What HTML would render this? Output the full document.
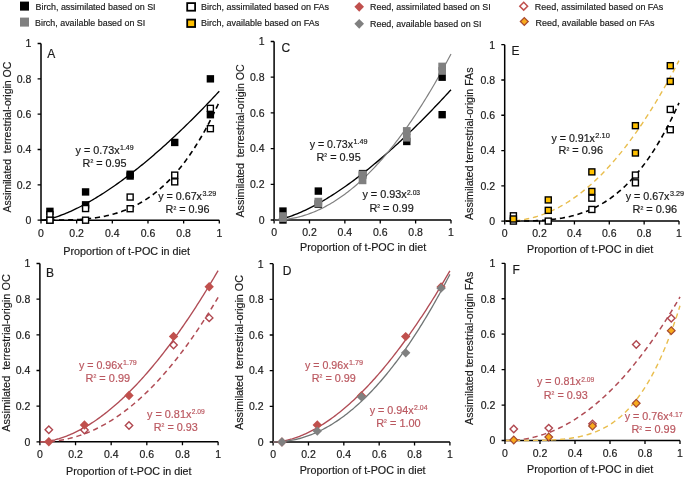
<!DOCTYPE html><html><head><meta charset="utf-8"><style>html,body{margin:0;padding:0;background:#fff;}svg{display:block;will-change:transform}</style></head><body>
<svg width="685" height="479" viewBox="0 0 685 479" font-family="Liberation Sans, sans-serif" fill="#1a1a1a">
<rect width="685" height="479" fill="#fff"/>
<g font-size="9" fill="#1a1a1a">
<rect x="20" y="1.6" width="9" height="9" fill="#000"/>
<text stroke="#1a1a1a" stroke-width="0.18" x="35.6" y="10" textLength="120" lengthAdjust="spacingAndGlyphs">Birch, assimilated based on SI</text>
<rect x="20" y="17.6" width="9" height="9" fill="#808080"/>
<text stroke="#1a1a1a" stroke-width="0.18" x="35" y="25.8" textLength="110.2" lengthAdjust="spacingAndGlyphs">Birch, available based on SI</text>
<rect x="187.2" y="3.1" width="7.9" height="7.6" fill="#fff" stroke="#000" stroke-width="1.8"/>
<text stroke="#1a1a1a" stroke-width="0.18" x="201" y="10" textLength="128" lengthAdjust="spacingAndGlyphs">Birch, assimilated based on FAs</text>
<rect x="187.2" y="19.6" width="7.9" height="7.4" fill="#ffc000" stroke="#000" stroke-width="1.8"/>
<text stroke="#1a1a1a" stroke-width="0.18" x="201" y="26.2" textLength="118.3" lengthAdjust="spacingAndGlyphs">Birch, available based on FAs</text>
<path d="M359.2,1.9L364,6.8L359.2,11.7L354.4,6.8Z" fill="#c0504d"/>
<text stroke="#1a1a1a" stroke-width="0.18" x="370" y="10" textLength="120.7" lengthAdjust="spacingAndGlyphs">Reed, assimilated based on SI</text>
<path d="M359.2,18.9L364,23.8L359.2,28.7L354.4,23.8Z" fill="#808080"/>
<text stroke="#1a1a1a" stroke-width="0.18" x="370" y="26.5" textLength="111.5" lengthAdjust="spacingAndGlyphs">Reed, available based on SI</text>
<path d="M523.7,2.3L527.6,6.2L523.7,10.1L519.8,6.2Z" fill="#fff" stroke="#c0504d" stroke-width="1.5"/>
<text stroke="#1a1a1a" stroke-width="0.18" x="534.8" y="10" textLength="128.5" lengthAdjust="spacingAndGlyphs">Reed, assimilated based on FAs</text>
<path d="M524.3,17.6L528.2,21.5L524.3,25.4L520.4,21.5Z" fill="#f8ab1c" stroke="#a8492f" stroke-width="1.3"/>
<text stroke="#1a1a1a" stroke-width="0.18" x="535.5" y="25.8" textLength="118.9" lengthAdjust="spacingAndGlyphs">Reed, available based on FAs</text>
</g>
<path d="M41,43.5V220.2H219.3" fill="none" stroke="#000" stroke-width="1.5"/>
<path d="M37.60,220.20H41M41.00,220.2V223.60M37.60,184.86H41M76.66,220.2V223.60M37.60,149.52H41M112.32,220.2V223.60M37.60,114.18H41M147.98,220.2V223.60M37.60,78.84H41M183.64,220.2V223.60M37.60,43.50H41M219.30,220.2V223.60" fill="none" stroke="#000" stroke-width="1.3"/>
<text stroke="#1a1a1a" stroke-width="0.18" x="31.40" y="224.00" text-anchor="end" font-size="10.5">0</text>
<text stroke="#1a1a1a" stroke-width="0.18" x="41.00" y="236.50" text-anchor="middle" font-size="10.5">0</text>
<text stroke="#1a1a1a" stroke-width="0.18" x="31.40" y="188.66" text-anchor="end" font-size="10.5">0.2</text>
<text stroke="#1a1a1a" stroke-width="0.18" x="76.66" y="236.50" text-anchor="middle" font-size="10.5">0.2</text>
<text stroke="#1a1a1a" stroke-width="0.18" x="31.40" y="153.32" text-anchor="end" font-size="10.5">0.4</text>
<text stroke="#1a1a1a" stroke-width="0.18" x="112.32" y="236.50" text-anchor="middle" font-size="10.5">0.4</text>
<text stroke="#1a1a1a" stroke-width="0.18" x="31.40" y="117.98" text-anchor="end" font-size="10.5">0.6</text>
<text stroke="#1a1a1a" stroke-width="0.18" x="147.98" y="236.50" text-anchor="middle" font-size="10.5">0.6</text>
<text stroke="#1a1a1a" stroke-width="0.18" x="31.40" y="82.64" text-anchor="end" font-size="10.5">0.8</text>
<text stroke="#1a1a1a" stroke-width="0.18" x="183.64" y="236.50" text-anchor="middle" font-size="10.5">0.8</text>
<text stroke="#1a1a1a" stroke-width="0.18" x="31.40" y="47.30" text-anchor="end" font-size="10.5">1</text>
<text stroke="#1a1a1a" stroke-width="0.18" x="219.30" y="236.50" text-anchor="middle" font-size="10.5">1</text>
<text stroke="#1a1a1a" stroke-width="0.18" x="63.20" y="255.20" font-size="10.8" textLength="126.80" lengthAdjust="spacingAndGlyphs">Proportion of t-POC in diet</text>
<text stroke="#1a1a1a" stroke-width="0.18" transform="translate(10.80,212.60) rotate(-90)" x="0" y="0" font-size="10.7" textLength="150.90" lengthAdjust="spacingAndGlyphs" xml:space="preserve">Assimilated  terrestrial-origin OC</text>
<text stroke="#1a1a1a" stroke-width="0.18" x="47.2" y="57.6" font-size="12">A</text>
<polyline points="41.00,220.20 42.49,220.10 43.97,219.91 45.46,219.67 46.94,219.39 48.43,219.07 49.91,218.71 51.40,218.33 52.89,217.92 54.37,217.48 55.86,217.02 57.34,216.53 58.83,216.03 60.32,215.50 61.80,214.95 63.29,214.38 64.77,213.79 66.26,213.19 67.75,212.56 69.23,211.92 70.72,211.26 72.20,210.59 73.69,209.90 75.17,209.20 76.66,208.48 78.15,207.74 79.63,206.99 81.12,206.23 82.60,205.45 84.09,204.66 85.58,203.85 87.06,203.03 88.55,202.20 90.03,201.36 91.52,200.50 93.00,199.63 94.49,198.75 95.98,197.85 97.46,196.95 98.95,196.03 100.43,195.10 101.92,194.16 103.41,193.21 104.89,192.25 106.38,191.27 107.86,190.29 109.35,189.29 110.83,188.28 112.32,187.27 113.81,186.24 115.29,185.20 116.78,184.15 118.26,183.10 119.75,182.03 121.24,180.95 122.72,179.86 124.21,178.76 125.69,177.66 127.18,176.54 128.66,175.41 130.15,174.28 131.64,173.13 133.12,171.98 134.61,170.81 136.09,169.64 137.58,168.46 139.06,167.27 140.55,166.07 142.04,164.86 143.52,163.65 145.01,162.42 146.49,161.19 147.98,159.94 149.47,158.69 150.95,157.43 152.44,156.16 153.92,154.89 155.41,153.60 156.90,152.31 158.38,151.01 159.87,149.70 161.35,148.38 162.84,147.06 164.32,145.73 165.81,144.38 167.30,143.04 168.78,141.68 170.27,140.32 171.75,138.94 173.24,137.56 174.73,136.18 176.21,134.78 177.70,133.38 179.18,131.97 180.67,130.55 182.15,129.13 183.64,127.70 185.13,126.26 186.61,124.81 188.10,123.36 189.58,121.89 191.07,120.43 192.56,118.95 194.04,117.47 195.53,115.98 197.01,114.48 198.50,112.98 199.98,111.47 201.47,109.95 202.96,108.42 204.44,106.89 205.93,105.36 207.41,103.81 208.90,102.26 210.38,100.70 211.87,99.13 213.36,97.56 214.84,95.98 216.33,94.40 217.81,92.81 219.30,91.21" fill="none" stroke="#000" stroke-width="1.35" stroke-linejoin="round"/>
<polyline points="41.00,220.20 42.49,220.20 43.97,220.20 45.46,220.20 46.94,220.20 48.43,220.20 49.91,220.19 51.40,220.19 52.89,220.18 54.37,220.18 55.86,220.17 57.34,220.15 58.83,220.14 60.32,220.12 61.80,220.10 63.29,220.07 64.77,220.04 66.26,220.01 67.75,219.97 69.23,219.92 70.72,219.87 72.20,219.82 73.69,219.75 75.17,219.68 76.66,219.61 78.15,219.52 79.63,219.43 81.12,219.33 82.60,219.21 84.09,219.09 85.58,218.96 87.06,218.82 88.55,218.67 90.03,218.51 91.52,218.33 93.00,218.15 94.49,217.95 95.98,217.73 97.46,217.51 98.95,217.27 100.43,217.01 101.92,216.74 103.41,216.46 104.89,216.16 106.38,215.84 107.86,215.50 109.35,215.15 110.83,214.78 112.32,214.39 113.81,213.98 115.29,213.56 116.78,213.11 118.26,212.64 119.75,212.15 121.24,211.64 122.72,211.11 124.21,210.55 125.69,209.98 127.18,209.37 128.66,208.75 130.15,208.10 131.64,207.42 133.12,206.72 134.61,205.99 136.09,205.23 137.58,204.45 139.06,203.64 140.55,202.80 142.04,201.93 143.52,201.03 145.01,200.10 146.49,199.14 147.98,198.15 149.47,197.13 150.95,196.07 152.44,194.98 153.92,193.86 155.41,192.70 156.90,191.51 158.38,190.28 159.87,189.01 161.35,187.71 162.84,186.37 164.32,185.00 165.81,183.58 167.30,182.13 168.78,180.64 170.27,179.10 171.75,177.53 173.24,175.91 174.73,174.25 176.21,172.55 177.70,170.81 179.18,169.02 180.67,167.19 182.15,165.31 183.64,163.38 185.13,161.41 186.61,159.40 188.10,157.33 189.58,155.22 191.07,153.05 192.56,150.84 194.04,148.58 195.53,146.27 197.01,143.90 198.50,141.48 199.98,139.01 201.47,136.49 202.96,133.91 204.44,131.28 205.93,128.60 207.41,125.85 208.90,123.05 210.38,120.19 211.87,117.28 213.36,114.31 214.84,111.27 216.33,108.18 217.81,105.03 219.30,101.81" fill="none" stroke="#000" stroke-width="1.6" stroke-dasharray="5.2 3.8" stroke-dashoffset="0" stroke-linejoin="round"/>
<rect x="46.21" y="216.50" width="7.40" height="7.40" fill="#000"/>
<rect x="46.21" y="207.66" width="7.40" height="7.40" fill="#000"/>
<rect x="81.88" y="188.23" width="7.40" height="7.40" fill="#000"/>
<rect x="81.88" y="201.13" width="7.40" height="7.40" fill="#000"/>
<rect x="126.45" y="170.56" width="7.40" height="7.40" fill="#000"/>
<rect x="126.45" y="172.32" width="7.40" height="7.40" fill="#000"/>
<rect x="171.03" y="138.75" width="7.40" height="7.40" fill="#000"/>
<rect x="206.69" y="75.14" width="7.40" height="7.40" fill="#000"/>
<rect x="46.91" y="211.55" width="6.00" height="6.00" fill="#fff" stroke="#000" stroke-width="1.4"/>
<rect x="46.91" y="217.20" width="6.00" height="6.00" fill="#fff" stroke="#000" stroke-width="1.4"/>
<rect x="82.58" y="205.54" width="6.00" height="6.00" fill="#fff" stroke="#000" stroke-width="1.4"/>
<rect x="82.58" y="217.20" width="6.00" height="6.00" fill="#fff" stroke="#000" stroke-width="1.4"/>
<rect x="127.15" y="194.05" width="6.00" height="6.00" fill="#fff" stroke="#000" stroke-width="1.4"/>
<rect x="127.15" y="205.71" width="6.00" height="6.00" fill="#fff" stroke="#000" stroke-width="1.4"/>
<rect x="171.73" y="172.14" width="6.00" height="6.00" fill="#fff" stroke="#000" stroke-width="1.4"/>
<rect x="171.73" y="178.86" width="6.00" height="6.00" fill="#fff" stroke="#000" stroke-width="1.4"/>
<rect x="207.38" y="105.35" width="6.00" height="6.00" fill="#fff" stroke="#000" stroke-width="1.4"/>
<rect x="207.38" y="125.67" width="6.00" height="6.00" fill="#fff" stroke="#000" stroke-width="1.4"/>
<rect x="206.69" y="111.01" width="7.40" height="7.40" fill="#000"/>
<text stroke="#1a1a1a" stroke-width="0.18" x="75.60" y="153.70" font-size="10.6" fill="#1a1a1a" textLength="44.00" lengthAdjust="spacingAndGlyphs">y = 0.73x</text>
<text stroke="#1a1a1a" stroke-width="0.18" x="120.00" y="150.10" font-size="7.2" fill="#1a1a1a" textLength="13.60" lengthAdjust="spacingAndGlyphs">1.49</text>
<text stroke="#1a1a1a" stroke-width="0.18" x="82.60" y="166.50" font-size="10.6" fill="#1a1a1a" textLength="44.00" lengthAdjust="spacingAndGlyphs">R<tspan font-size="8.2" dy="-1.5">²</tspan><tspan dy="1.5"> = 0.95</tspan></text>
<text stroke="#1a1a1a" stroke-width="0.18" x="158.20" y="200.00" font-size="10.6" fill="#1a1a1a" textLength="43.80" lengthAdjust="spacingAndGlyphs">y = 0.67x</text>
<text stroke="#1a1a1a" stroke-width="0.18" x="202.40" y="196.40" font-size="7.2" fill="#1a1a1a" textLength="13.90" lengthAdjust="spacingAndGlyphs">3.29</text>
<text stroke="#1a1a1a" stroke-width="0.18" x="165.60" y="213.00" font-size="10.6" fill="#1a1a1a" textLength="44.00" lengthAdjust="spacingAndGlyphs">R<tspan font-size="8.2" dy="-1.5">²</tspan><tspan dy="1.5"> = 0.96</tspan></text>
<path d="M274.1,41.5V220.0H451" fill="none" stroke="#000" stroke-width="1.5"/>
<path d="M270.70,220.00H274.1M274.10,220.0V223.40M270.70,184.30H274.1M309.48,220.0V223.40M270.70,148.60H274.1M344.86,220.0V223.40M270.70,112.90H274.1M380.24,220.0V223.40M270.70,77.20H274.1M415.62,220.0V223.40M270.70,41.50H274.1M451.00,220.0V223.40" fill="none" stroke="#000" stroke-width="1.3"/>
<text stroke="#1a1a1a" stroke-width="0.18" x="264.50" y="223.80" text-anchor="end" font-size="10.5">0</text>
<text stroke="#1a1a1a" stroke-width="0.18" x="274.10" y="236.30" text-anchor="middle" font-size="10.5">0</text>
<text stroke="#1a1a1a" stroke-width="0.18" x="264.50" y="188.10" text-anchor="end" font-size="10.5">0.2</text>
<text stroke="#1a1a1a" stroke-width="0.18" x="309.48" y="236.30" text-anchor="middle" font-size="10.5">0.2</text>
<text stroke="#1a1a1a" stroke-width="0.18" x="264.50" y="152.40" text-anchor="end" font-size="10.5">0.4</text>
<text stroke="#1a1a1a" stroke-width="0.18" x="344.86" y="236.30" text-anchor="middle" font-size="10.5">0.4</text>
<text stroke="#1a1a1a" stroke-width="0.18" x="264.50" y="116.70" text-anchor="end" font-size="10.5">0.6</text>
<text stroke="#1a1a1a" stroke-width="0.18" x="380.24" y="236.30" text-anchor="middle" font-size="10.5">0.6</text>
<text stroke="#1a1a1a" stroke-width="0.18" x="264.50" y="81.00" text-anchor="end" font-size="10.5">0.8</text>
<text stroke="#1a1a1a" stroke-width="0.18" x="415.62" y="236.30" text-anchor="middle" font-size="10.5">0.8</text>
<text stroke="#1a1a1a" stroke-width="0.18" x="264.50" y="45.30" text-anchor="end" font-size="10.5">1</text>
<text stroke="#1a1a1a" stroke-width="0.18" x="451.00" y="236.30" text-anchor="middle" font-size="10.5">1</text>
<text stroke="#1a1a1a" stroke-width="0.18" x="300.00" y="250.50" font-size="10.8" textLength="126.20" lengthAdjust="spacingAndGlyphs">Proportion of t-POC in diet</text>
<text stroke="#1a1a1a" stroke-width="0.18" transform="translate(243.50,217.50) rotate(-90)" x="0" y="0" font-size="10.7" textLength="153.30" lengthAdjust="spacingAndGlyphs" xml:space="preserve">Assimilated  terrestrial-origin OC</text>
<text stroke="#1a1a1a" stroke-width="0.18" x="281.5" y="51.6" font-size="12">C</text>
<polyline points="274.10,220.00 275.57,219.90 277.05,219.71 278.52,219.47 280.00,219.18 281.47,218.86 282.95,218.50 284.42,218.11 285.89,217.70 287.37,217.25 288.84,216.79 290.32,216.30 291.79,215.78 293.26,215.25 294.74,214.69 296.21,214.12 297.69,213.53 299.16,212.91 300.63,212.28 302.11,211.64 303.58,210.97 305.06,210.29 306.53,209.60 308.01,208.88 309.48,208.16 310.95,207.41 312.43,206.66 313.90,205.88 315.38,205.10 316.85,204.30 318.33,203.48 319.80,202.66 321.27,201.82 322.75,200.96 324.22,200.10 325.70,199.22 327.17,198.33 328.64,197.43 330.12,196.51 331.59,195.58 333.07,194.65 334.54,193.70 336.01,192.73 337.49,191.76 338.96,190.78 340.44,189.78 341.91,188.78 343.39,187.76 344.86,186.73 346.33,185.69 347.81,184.65 349.28,183.59 350.76,182.52 352.23,181.44 353.71,180.35 355.18,179.25 356.65,178.14 358.13,177.02 359.60,175.89 361.08,174.76 362.55,173.61 364.02,172.45 365.50,171.29 366.97,170.11 368.45,168.93 369.92,167.73 371.40,166.53 372.87,165.32 374.34,164.10 375.82,162.87 377.29,161.63 378.77,160.38 380.24,159.13 381.71,157.87 383.19,156.59 384.66,155.31 386.14,154.02 387.61,152.73 389.09,151.42 390.56,150.11 392.03,148.78 393.51,147.45 394.98,146.11 396.46,144.77 397.93,143.41 399.40,142.05 400.88,140.68 402.35,139.30 403.83,137.92 405.30,136.52 406.77,135.12 408.25,133.71 409.72,132.29 411.20,130.87 412.67,129.44 414.15,128.00 415.62,126.55 417.09,125.10 418.57,123.64 420.04,122.17 421.52,120.69 422.99,119.21 424.47,117.72 425.94,116.22 427.41,114.72 428.89,113.20 430.36,111.69 431.84,110.16 433.31,108.63 434.78,107.09 436.26,105.54 437.73,103.99 439.21,102.42 440.68,100.86 442.15,99.28 443.63,97.70 445.10,96.11 446.58,94.52 448.05,92.92 449.53,91.31 451.00,89.69" fill="none" stroke="#000" stroke-width="1.35" stroke-linejoin="round"/>
<polyline points="274.10,220.00 275.57,219.99 277.05,219.96 278.52,219.91 280.00,219.83 281.47,219.74 282.95,219.62 284.42,219.48 285.89,219.32 287.37,219.14 288.84,218.93 290.32,218.70 291.79,218.45 293.26,218.18 294.74,217.88 296.21,217.56 297.69,217.22 299.16,216.86 300.63,216.47 302.11,216.06 303.58,215.63 305.06,215.18 306.53,214.70 308.01,214.20 309.48,213.67 310.95,213.13 312.43,212.56 313.90,211.96 315.38,211.35 316.85,210.71 318.33,210.05 319.80,209.36 321.27,208.65 322.75,207.92 324.22,207.17 325.70,206.39 327.17,205.59 328.64,204.77 330.12,203.92 331.59,203.05 333.07,202.15 334.54,201.24 336.01,200.29 337.49,199.33 338.96,198.34 340.44,197.33 341.91,196.30 343.39,195.24 344.86,194.16 346.33,193.05 347.81,191.93 349.28,190.78 350.76,189.60 352.23,188.40 353.71,187.18 355.18,185.93 356.65,184.67 358.13,183.37 359.60,182.06 361.08,180.72 362.55,179.35 364.02,177.97 365.50,176.56 366.97,175.12 368.45,173.66 369.92,172.18 371.40,170.68 372.87,169.15 374.34,167.59 375.82,166.02 377.29,164.42 378.77,162.79 380.24,161.15 381.71,159.48 383.19,157.78 384.66,156.06 386.14,154.32 387.61,152.55 389.09,150.76 390.56,148.95 392.03,147.11 393.51,145.25 394.98,143.37 396.46,141.46 397.93,139.52 399.40,137.57 400.88,135.59 402.35,133.58 403.83,131.55 405.30,129.50 406.77,127.42 408.25,125.32 409.72,123.20 411.20,121.05 412.67,118.88 414.15,116.69 415.62,114.47 417.09,112.22 418.57,109.95 420.04,107.66 421.52,105.35 422.99,103.01 424.47,100.64 425.94,98.26 427.41,95.85 428.89,93.41 430.36,90.95 431.84,88.47 433.31,85.96 434.78,83.43 436.26,80.87 437.73,78.29 439.21,75.69 440.68,73.06 442.15,70.41 443.63,67.74 445.10,65.04 446.58,62.31 448.05,59.56 449.53,56.79 451.00,54.00" fill="none" stroke="#808080" stroke-width="1.2" stroke-linejoin="round"/>
<rect x="279.25" y="207.38" width="7.40" height="7.40" fill="#000"/>
<rect x="279.25" y="216.30" width="7.40" height="7.40" fill="#000"/>
<rect x="314.63" y="187.38" width="7.40" height="7.40" fill="#000"/>
<rect x="314.63" y="200.59" width="7.40" height="7.40" fill="#000"/>
<rect x="358.85" y="169.89" width="7.40" height="7.40" fill="#000"/>
<rect x="358.85" y="171.68" width="7.40" height="7.40" fill="#000"/>
<rect x="403.07" y="137.76" width="7.40" height="7.40" fill="#000"/>
<rect x="438.45" y="73.50" width="7.40" height="7.40" fill="#000"/>
<rect x="438.45" y="110.98" width="7.40" height="7.40" fill="#000"/>
<rect x="279.10" y="212.22" width="7.70" height="7.70" fill="#808080"/>
<rect x="279.10" y="214.37" width="7.70" height="7.70" fill="#808080"/>
<rect x="314.48" y="197.76" width="7.70" height="7.70" fill="#808080"/>
<rect x="314.48" y="199.73" width="7.70" height="7.70" fill="#808080"/>
<rect x="358.70" y="170.63" width="7.70" height="7.70" fill="#808080"/>
<rect x="358.70" y="176.52" width="7.70" height="7.70" fill="#808080"/>
<rect x="402.92" y="127.08" width="7.70" height="7.70" fill="#808080"/>
<rect x="402.92" y="133.86" width="7.70" height="7.70" fill="#808080"/>
<rect x="438.30" y="62.64" width="7.70" height="7.70" fill="#808080"/>
<rect x="438.30" y="67.10" width="7.70" height="7.70" fill="#808080"/>
<text stroke="#1a1a1a" stroke-width="0.18" x="309.70" y="147.80" font-size="10.6" fill="#1a1a1a" textLength="43.40" lengthAdjust="spacingAndGlyphs">y = 0.73x</text>
<text stroke="#1a1a1a" stroke-width="0.18" x="353.50" y="144.20" font-size="7.2" fill="#1a1a1a" textLength="14.00" lengthAdjust="spacingAndGlyphs">1.49</text>
<text stroke="#1a1a1a" stroke-width="0.18" x="316.50" y="160.60" font-size="10.6" fill="#1a1a1a" textLength="44.20" lengthAdjust="spacingAndGlyphs">R<tspan font-size="8.2" dy="-1.5">²</tspan><tspan dy="1.5"> = 0.95</tspan></text>
<text stroke="#1a1a1a" stroke-width="0.18" x="362.40" y="198.40" font-size="10.6" fill="#1a1a1a" textLength="44.30" lengthAdjust="spacingAndGlyphs">y = 0.93x</text>
<text stroke="#1a1a1a" stroke-width="0.18" x="407.10" y="194.80" font-size="7.2" fill="#1a1a1a" textLength="13.00" lengthAdjust="spacingAndGlyphs">2.03</text>
<text stroke="#1a1a1a" stroke-width="0.18" x="369.40" y="211.60" font-size="10.6" fill="#1a1a1a" textLength="44.30" lengthAdjust="spacingAndGlyphs">R<tspan font-size="8.2" dy="-1.5">²</tspan><tspan dy="1.5"> = 0.99</tspan></text>
<path d="M504.7,44.7V221.1H679" fill="none" stroke="#000" stroke-width="1.5"/>
<path d="M501.30,221.10H504.7M504.70,221.1V224.50M501.30,185.82H504.7M539.56,221.1V224.50M501.30,150.54H504.7M574.42,221.1V224.50M501.30,115.26H504.7M609.28,221.1V224.50M501.30,79.98H504.7M644.14,221.1V224.50M501.30,44.70H504.7M679.00,221.1V224.50" fill="none" stroke="#000" stroke-width="1.3"/>
<text stroke="#1a1a1a" stroke-width="0.18" x="495.10" y="224.90" text-anchor="end" font-size="10.5">0</text>
<text stroke="#1a1a1a" stroke-width="0.18" x="504.70" y="237.40" text-anchor="middle" font-size="10.5">0</text>
<text stroke="#1a1a1a" stroke-width="0.18" x="495.10" y="189.62" text-anchor="end" font-size="10.5">0.2</text>
<text stroke="#1a1a1a" stroke-width="0.18" x="539.56" y="237.40" text-anchor="middle" font-size="10.5">0.2</text>
<text stroke="#1a1a1a" stroke-width="0.18" x="495.10" y="154.34" text-anchor="end" font-size="10.5">0.4</text>
<text stroke="#1a1a1a" stroke-width="0.18" x="574.42" y="237.40" text-anchor="middle" font-size="10.5">0.4</text>
<text stroke="#1a1a1a" stroke-width="0.18" x="495.10" y="119.06" text-anchor="end" font-size="10.5">0.6</text>
<text stroke="#1a1a1a" stroke-width="0.18" x="609.28" y="237.40" text-anchor="middle" font-size="10.5">0.6</text>
<text stroke="#1a1a1a" stroke-width="0.18" x="495.10" y="83.78" text-anchor="end" font-size="10.5">0.8</text>
<text stroke="#1a1a1a" stroke-width="0.18" x="644.14" y="237.40" text-anchor="middle" font-size="10.5">0.8</text>
<text stroke="#1a1a1a" stroke-width="0.18" x="495.10" y="48.50" text-anchor="end" font-size="10.5">1</text>
<text stroke="#1a1a1a" stroke-width="0.18" x="679.00" y="237.40" text-anchor="middle" font-size="10.5">1</text>
<text stroke="#1a1a1a" stroke-width="0.18" x="527.00" y="253.30" font-size="10.8" textLength="126.20" lengthAdjust="spacingAndGlyphs">Proportion of t-POC in diet</text>
<text stroke="#1a1a1a" stroke-width="0.18" transform="translate(473.20,220.00) rotate(-90)" x="0" y="0" font-size="10.7" textLength="152.50" lengthAdjust="spacingAndGlyphs" xml:space="preserve">Assimilated terrestrial-origin FAs</text>
<text stroke="#1a1a1a" stroke-width="0.18" x="511.5" y="55.3" font-size="12">E</text>
<polyline points="504.70,221.10 506.15,221.09 507.60,221.07 509.06,221.03 510.51,220.97 511.96,220.90 513.41,220.80 514.87,220.69 516.32,220.56 517.77,220.40 519.23,220.23 520.68,220.04 522.13,219.82 523.58,219.59 525.03,219.34 526.49,219.06 527.94,218.77 529.39,218.45 530.85,218.11 532.30,217.75 533.75,217.37 535.20,216.97 536.65,216.55 538.11,216.10 539.56,215.63 541.01,215.14 542.47,214.63 543.92,214.10 545.37,213.54 546.82,212.97 548.27,212.37 549.73,211.74 551.18,211.10 552.63,210.43 554.09,209.74 555.54,209.03 556.99,208.29 558.44,207.53 559.89,206.75 561.35,205.95 562.80,205.12 564.25,204.27 565.71,203.40 567.16,202.50 568.61,201.58 570.06,200.64 571.51,199.67 572.97,198.68 574.42,197.66 575.87,196.63 577.33,195.57 578.78,194.48 580.23,193.38 581.68,192.24 583.13,191.09 584.59,189.91 586.04,188.71 587.49,187.48 588.94,186.23 590.40,184.95 591.85,183.66 593.30,182.33 594.75,180.99 596.21,179.62 597.66,178.22 599.11,176.80 600.57,175.36 602.02,173.89 603.47,172.40 604.92,170.88 606.38,169.34 607.83,167.78 609.28,166.19 610.73,164.58 612.18,162.94 613.64,161.27 615.09,159.59 616.54,157.87 618.00,156.14 619.45,154.38 620.90,152.59 622.35,150.78 623.80,148.94 625.26,147.08 626.71,145.20 628.16,143.29 629.62,141.35 631.07,139.39 632.52,137.41 633.97,135.40 635.42,133.37 636.88,131.31 638.33,129.22 639.78,127.11 641.24,124.98 642.69,122.82 644.14,120.63 645.59,118.42 647.04,116.19 648.50,113.93 649.95,111.64 651.40,109.33 652.86,106.99 654.31,104.63 655.76,102.24 657.21,99.83 658.66,97.39 660.12,94.93 661.57,92.44 663.02,89.92 664.48,87.38 665.93,84.82 667.38,82.23 668.83,79.61 670.28,76.97 671.74,74.30 673.19,71.61 674.64,68.89 676.10,66.14 677.55,63.37 679.00,60.58" fill="none" stroke="#e9be4e" stroke-width="1.4" stroke-dasharray="5.2 3.8" stroke-dashoffset="-1.5" stroke-linejoin="round"/>
<polyline points="504.70,221.10 506.15,221.10 507.60,221.10 509.06,221.10 510.51,221.10 511.96,221.10 513.41,221.09 514.87,221.09 516.32,221.08 517.77,221.08 519.23,221.07 520.68,221.05 522.13,221.04 523.58,221.02 525.03,221.00 526.49,220.97 527.94,220.94 529.39,220.91 530.85,220.87 532.30,220.83 533.75,220.77 535.20,220.72 536.65,220.65 538.11,220.58 539.56,220.51 541.01,220.42 542.47,220.33 543.92,220.23 545.37,220.12 546.82,220.00 548.27,219.86 549.73,219.72 551.18,219.57 552.63,219.41 554.09,219.24 555.54,219.05 556.99,218.85 558.44,218.64 559.89,218.41 561.35,218.17 562.80,217.92 564.25,217.65 565.71,217.36 567.16,217.06 568.61,216.74 570.06,216.41 571.51,216.06 572.97,215.69 574.42,215.30 575.87,214.89 577.33,214.47 578.78,214.02 580.23,213.55 581.68,213.07 583.13,212.56 584.59,212.02 586.04,211.47 587.49,210.89 588.94,210.29 590.40,209.67 591.85,209.02 593.30,208.34 594.75,207.64 596.21,206.91 597.66,206.16 599.11,205.38 600.57,204.57 602.02,203.73 603.47,202.86 604.92,201.96 606.38,201.03 607.83,200.08 609.28,199.09 610.73,198.06 612.18,197.01 613.64,195.92 615.09,194.80 616.54,193.64 618.00,192.45 619.45,191.23 620.90,189.97 622.35,188.67 623.80,187.33 625.26,185.96 626.71,184.55 628.16,183.09 629.62,181.60 631.07,180.07 632.52,178.50 633.97,176.89 635.42,175.23 636.88,173.53 638.33,171.79 639.78,170.01 641.24,168.18 642.69,166.30 644.14,164.38 645.59,162.41 647.04,160.40 648.50,158.34 649.95,156.23 651.40,154.07 652.86,151.86 654.31,149.60 655.76,147.29 657.21,144.93 658.66,142.52 660.12,140.05 661.57,137.53 663.02,134.96 664.48,132.33 665.93,129.65 667.38,126.91 668.83,124.12 670.28,121.26 671.74,118.35 673.19,115.39 674.64,112.36 676.10,109.27 677.55,106.12 679.00,102.91" fill="none" stroke="#000" stroke-width="1.6" stroke-dasharray="5.2 3.8" stroke-dashoffset="-1.3" stroke-linejoin="round"/>
<rect x="510.41" y="212.81" width="6.00" height="6.00" fill="#fff" stroke="#000" stroke-width="1.4"/>
<rect x="510.41" y="218.10" width="6.00" height="6.00" fill="#fff" stroke="#000" stroke-width="1.4"/>
<rect x="545.27" y="218.10" width="6.00" height="6.00" fill="#fff" stroke="#000" stroke-width="1.4"/>
<rect x="588.85" y="195.17" width="6.00" height="6.00" fill="#fff" stroke="#000" stroke-width="1.4"/>
<rect x="588.85" y="206.46" width="6.00" height="6.00" fill="#fff" stroke="#000" stroke-width="1.4"/>
<rect x="632.42" y="172.06" width="6.00" height="6.00" fill="#fff" stroke="#000" stroke-width="1.4"/>
<rect x="632.42" y="179.82" width="6.00" height="6.00" fill="#fff" stroke="#000" stroke-width="1.4"/>
<rect x="667.28" y="106.44" width="6.00" height="6.00" fill="#fff" stroke="#000" stroke-width="1.4"/>
<rect x="667.28" y="126.72" width="6.00" height="6.00" fill="#fff" stroke="#000" stroke-width="1.4"/>
<rect x="510.41" y="215.98" width="6.00" height="6.00" fill="#ffc000" stroke="#000" stroke-width="1.4"/>
<rect x="545.27" y="196.93" width="6.00" height="6.00" fill="#ffc000" stroke="#000" stroke-width="1.4"/>
<rect x="545.27" y="207.34" width="6.00" height="6.00" fill="#ffc000" stroke="#000" stroke-width="1.4"/>
<rect x="588.85" y="168.88" width="6.00" height="6.00" fill="#ffc000" stroke="#000" stroke-width="1.4"/>
<rect x="588.85" y="188.46" width="6.00" height="6.00" fill="#ffc000" stroke="#000" stroke-width="1.4"/>
<rect x="632.42" y="122.67" width="6.00" height="6.00" fill="#ffc000" stroke="#000" stroke-width="1.4"/>
<rect x="632.42" y="150.01" width="6.00" height="6.00" fill="#ffc000" stroke="#000" stroke-width="1.4"/>
<rect x="667.28" y="62.69" width="6.00" height="6.00" fill="#ffc000" stroke="#000" stroke-width="1.4"/>
<rect x="667.28" y="78.39" width="6.00" height="6.00" fill="#ffc000" stroke="#000" stroke-width="1.4"/>
<text stroke="#1a1a1a" stroke-width="0.18" x="551.50" y="141.60" font-size="10.6" fill="#1a1a1a" textLength="43.40" lengthAdjust="spacingAndGlyphs">y = 0.91x</text>
<text stroke="#1a1a1a" stroke-width="0.18" x="595.30" y="138.00" font-size="7.2" fill="#1a1a1a" textLength="14.50" lengthAdjust="spacingAndGlyphs">2.10</text>
<text stroke="#1a1a1a" stroke-width="0.18" x="558.50" y="154.40" font-size="10.6" fill="#1a1a1a" textLength="44.50" lengthAdjust="spacingAndGlyphs">R<tspan font-size="8.2" dy="-1.5">²</tspan><tspan dy="1.5"> = 0.96</tspan></text>
<text stroke="#1a1a1a" stroke-width="0.18" x="625.70" y="200.00" font-size="10.6" fill="#1a1a1a" textLength="43.80" lengthAdjust="spacingAndGlyphs">y = 0.67x</text>
<text stroke="#1a1a1a" stroke-width="0.18" x="669.90" y="196.40" font-size="7.2" fill="#1a1a1a" textLength="14.10" lengthAdjust="spacingAndGlyphs">3.29</text>
<text stroke="#1a1a1a" stroke-width="0.18" x="632.50" y="213.00" font-size="10.6" fill="#1a1a1a" textLength="44.60" lengthAdjust="spacingAndGlyphs">R<tspan font-size="8.2" dy="-1.5">²</tspan><tspan dy="1.5"> = 0.96</tspan></text>
<path d="M39.9,263.5V441.8H218.1" fill="none" stroke="#000" stroke-width="1.5"/>
<path d="M36.50,441.80H39.9M39.90,441.8V445.20M36.50,406.14H39.9M75.54,441.8V445.20M36.50,370.48H39.9M111.18,441.8V445.20M36.50,334.82H39.9M146.82,441.8V445.20M36.50,299.16H39.9M182.46,441.8V445.20M36.50,263.50H39.9M218.10,441.8V445.20" fill="none" stroke="#000" stroke-width="1.3"/>
<text stroke="#1a1a1a" stroke-width="0.18" x="30.30" y="445.60" text-anchor="end" font-size="10.5">0</text>
<text stroke="#1a1a1a" stroke-width="0.18" x="39.90" y="458.10" text-anchor="middle" font-size="10.5">0</text>
<text stroke="#1a1a1a" stroke-width="0.18" x="30.30" y="409.94" text-anchor="end" font-size="10.5">0.2</text>
<text stroke="#1a1a1a" stroke-width="0.18" x="75.54" y="458.10" text-anchor="middle" font-size="10.5">0.2</text>
<text stroke="#1a1a1a" stroke-width="0.18" x="30.30" y="374.28" text-anchor="end" font-size="10.5">0.4</text>
<text stroke="#1a1a1a" stroke-width="0.18" x="111.18" y="458.10" text-anchor="middle" font-size="10.5">0.4</text>
<text stroke="#1a1a1a" stroke-width="0.18" x="30.30" y="338.62" text-anchor="end" font-size="10.5">0.6</text>
<text stroke="#1a1a1a" stroke-width="0.18" x="146.82" y="458.10" text-anchor="middle" font-size="10.5">0.6</text>
<text stroke="#1a1a1a" stroke-width="0.18" x="30.30" y="302.96" text-anchor="end" font-size="10.5">0.8</text>
<text stroke="#1a1a1a" stroke-width="0.18" x="182.46" y="458.10" text-anchor="middle" font-size="10.5">0.8</text>
<text stroke="#1a1a1a" stroke-width="0.18" x="30.30" y="267.30" text-anchor="end" font-size="10.5">1</text>
<text stroke="#1a1a1a" stroke-width="0.18" x="218.10" y="458.10" text-anchor="middle" font-size="10.5">1</text>
<text stroke="#1a1a1a" stroke-width="0.18" x="66.00" y="475.10" font-size="10.8" textLength="125.50" lengthAdjust="spacingAndGlyphs">Proportion of t-POC in diet</text>
<text stroke="#1a1a1a" stroke-width="0.18" transform="translate(9.80,431.70) rotate(-90)" x="0" y="0" font-size="10.7" textLength="157.50" lengthAdjust="spacingAndGlyphs" xml:space="preserve">Assimilated  terrestrial-origin OC</text>
<text stroke="#1a1a1a" stroke-width="0.18" x="46" y="277" font-size="12">B</text>
<polyline points="39.90,441.80 41.38,441.77 42.87,441.69 44.35,441.57 45.84,441.41 47.32,441.22 48.81,441.00 50.30,440.74 51.78,440.46 53.27,440.14 54.75,439.80 56.23,439.42 57.72,439.02 59.20,438.60 60.69,438.14 62.17,437.66 63.66,437.15 65.14,436.62 66.63,436.06 68.11,435.48 69.60,434.87 71.08,434.24 72.57,433.58 74.06,432.90 75.54,432.20 77.03,431.47 78.51,430.72 80.00,429.95 81.48,429.15 82.97,428.33 84.45,427.49 85.94,426.62 87.42,425.73 88.91,424.82 90.39,423.89 91.88,422.94 93.36,421.96 94.84,420.97 96.33,419.95 97.81,418.91 99.30,417.85 100.78,416.76 102.27,415.66 103.75,414.54 105.24,413.39 106.72,412.22 108.21,411.04 109.69,409.83 111.18,408.60 112.66,407.35 114.15,406.09 115.63,404.80 117.12,403.49 118.60,402.16 120.09,400.81 121.57,399.44 123.06,398.05 124.54,396.65 126.03,395.22 127.51,393.77 129.00,392.30 130.48,390.82 131.97,389.31 133.45,387.79 134.94,386.24 136.42,384.68 137.91,383.10 139.39,381.49 140.88,379.87 142.36,378.23 143.85,376.58 145.33,374.90 146.82,373.20 148.30,371.49 149.79,369.75 151.28,368.00 152.76,366.23 154.25,364.44 155.73,362.63 157.22,360.81 158.70,358.96 160.19,357.10 161.67,355.22 163.16,353.32 164.64,351.40 166.12,349.47 167.61,347.52 169.09,345.54 170.58,343.55 172.06,341.55 173.55,339.52 175.03,337.48 176.52,335.42 178.00,333.34 179.49,331.24 180.97,329.13 182.46,327.00 183.94,324.85 185.43,322.68 186.91,320.50 188.40,318.29 189.88,316.07 191.37,313.84 192.85,311.58 194.34,309.31 195.82,307.02 197.31,304.72 198.80,302.39 200.28,300.05 201.76,297.69 203.25,295.32 204.74,292.93 206.22,290.52 207.70,288.09 209.19,285.65 210.68,283.19 212.16,280.71 213.64,278.22 215.13,275.70 216.62,273.18 218.10,270.63" fill="none" stroke="#b04c55" stroke-width="1.35" stroke-linejoin="round"/>
<polyline points="39.90,441.80 41.38,441.79 42.87,441.77 44.35,441.74 45.84,441.68 47.32,441.61 48.81,441.52 50.30,441.42 51.78,441.30 53.27,441.16 54.75,441.00 56.23,440.82 57.72,440.63 59.20,440.41 60.69,440.18 62.17,439.93 63.66,439.66 65.14,439.37 66.63,439.06 68.11,438.73 69.60,438.39 71.08,438.02 72.57,437.63 74.06,437.23 75.54,436.80 77.03,436.36 78.51,435.89 80.00,435.41 81.48,434.90 82.97,434.38 84.45,433.83 85.94,433.27 87.42,432.68 88.91,432.08 90.39,431.45 91.88,430.80 93.36,430.14 94.84,429.45 96.33,428.74 97.81,428.01 99.30,427.26 100.78,426.49 102.27,425.70 103.75,424.89 105.24,424.06 106.72,423.21 108.21,422.33 109.69,421.44 111.18,420.52 112.66,419.58 114.15,418.63 115.63,417.65 117.12,416.65 118.60,415.63 120.09,414.58 121.57,413.52 123.06,412.43 124.54,411.33 126.03,410.20 127.51,409.05 129.00,407.88 130.48,406.69 131.97,405.47 133.45,404.24 134.94,402.98 136.42,401.70 137.91,400.40 139.39,399.08 140.88,397.74 142.36,396.37 143.85,394.98 145.33,393.57 146.82,392.14 148.30,390.69 149.79,389.22 151.28,387.72 152.76,386.20 154.25,384.66 155.73,383.10 157.22,381.52 158.70,379.91 160.19,378.28 161.67,376.63 163.16,374.96 164.64,373.27 166.12,371.55 167.61,369.81 169.09,368.05 170.58,366.27 172.06,364.47 173.55,362.64 175.03,360.79 176.52,358.92 178.00,357.02 179.49,355.11 180.97,353.17 182.46,351.21 183.94,349.22 185.43,347.22 186.91,345.19 188.40,343.14 189.88,341.07 191.37,338.97 192.85,336.85 194.34,334.71 195.82,332.55 197.31,330.36 198.80,328.15 200.28,325.92 201.76,323.67 203.25,321.39 204.74,319.09 206.22,316.77 207.70,314.43 209.19,312.06 210.68,309.67 212.16,307.26 213.64,304.82 215.13,302.36 216.62,299.88 218.10,297.38" fill="none" stroke="#b04c55" stroke-width="1.5" stroke-dasharray="5.2 3.8" stroke-dashoffset="-1.0" stroke-linejoin="round"/>
<path d="M48.81,425.97L52.52,429.68L48.81,433.39L45.10,429.68Z" fill="#fff" stroke="#b0474f" stroke-width="1.4" stroke-linejoin="miter"/>
<path d="M84.45,426.32L88.16,430.03L84.45,433.74L80.74,430.03Z" fill="#fff" stroke="#b0474f" stroke-width="1.4" stroke-linejoin="miter"/>
<path d="M129.00,421.86L132.71,425.57L129.00,429.28L125.29,425.57Z" fill="#fff" stroke="#b0474f" stroke-width="1.4" stroke-linejoin="miter"/>
<path d="M173.55,341.27L177.26,344.98L173.55,348.69L169.84,344.98Z" fill="#fff" stroke="#b0474f" stroke-width="1.4" stroke-linejoin="miter"/>
<path d="M209.19,314.17L212.90,317.88L209.19,321.59L205.48,317.88Z" fill="#fff" stroke="#b0474f" stroke-width="1.4" stroke-linejoin="miter"/>
<path d="M48.81,437.10L53.51,441.80L48.81,446.50L44.11,441.80Z" fill="#c0504d"/>
<path d="M84.45,420.34L89.15,425.04L84.45,429.74L79.75,425.04Z" fill="#c0504d"/>
<path d="M129.00,390.74L133.70,395.44L129.00,400.14L124.30,395.44Z" fill="#c0504d"/>
<path d="M173.55,331.72L178.25,336.42L173.55,341.12L168.85,336.42Z" fill="#c0504d"/>
<path d="M209.19,281.98L213.89,286.68L209.19,291.38L204.49,286.68Z" fill="#c0504d"/>
<text stroke="#bb5860" stroke-width="0.18" x="78.90" y="368.80" font-size="10.6" fill="#bb5860" textLength="43.70" lengthAdjust="spacingAndGlyphs">y = 0.96x</text>
<text stroke="#bb5860" stroke-width="0.18" x="123.00" y="365.20" font-size="7.2" fill="#bb5860" textLength="13.80" lengthAdjust="spacingAndGlyphs">1.79</text>
<text stroke="#bb5860" stroke-width="0.18" x="85.60" y="381.60" font-size="10.6" fill="#bb5860" textLength="44.50" lengthAdjust="spacingAndGlyphs">R<tspan font-size="8.2" dy="-1.5">²</tspan><tspan dy="1.5"> = 0.99</tspan></text>
<text stroke="#bb5860" stroke-width="0.18" x="147.00" y="417.90" font-size="10.6" fill="#bb5860" textLength="44.40" lengthAdjust="spacingAndGlyphs">y = 0.81x</text>
<text stroke="#bb5860" stroke-width="0.18" x="191.80" y="414.30" font-size="7.2" fill="#bb5860" textLength="13.00" lengthAdjust="spacingAndGlyphs">2.09</text>
<text stroke="#bb5860" stroke-width="0.18" x="153.80" y="430.70" font-size="10.6" fill="#bb5860" textLength="44.00" lengthAdjust="spacingAndGlyphs">R<tspan font-size="8.2" dy="-1.5">²</tspan><tspan dy="1.5"> = 0.93</tspan></text>
<path d="M273.1,263.7V442.0H449.9" fill="none" stroke="#000" stroke-width="1.5"/>
<path d="M269.70,442.00H273.1M273.10,442.0V445.40M269.70,406.34H273.1M308.46,442.0V445.40M269.70,370.68H273.1M343.82,442.0V445.40M269.70,335.02H273.1M379.18,442.0V445.40M269.70,299.36H273.1M414.54,442.0V445.40M269.70,263.70H273.1M449.90,442.0V445.40" fill="none" stroke="#000" stroke-width="1.3"/>
<text stroke="#1a1a1a" stroke-width="0.18" x="263.50" y="445.80" text-anchor="end" font-size="10.5">0</text>
<text stroke="#1a1a1a" stroke-width="0.18" x="273.10" y="458.30" text-anchor="middle" font-size="10.5">0</text>
<text stroke="#1a1a1a" stroke-width="0.18" x="263.50" y="410.14" text-anchor="end" font-size="10.5">0.2</text>
<text stroke="#1a1a1a" stroke-width="0.18" x="308.46" y="458.30" text-anchor="middle" font-size="10.5">0.2</text>
<text stroke="#1a1a1a" stroke-width="0.18" x="263.50" y="374.48" text-anchor="end" font-size="10.5">0.4</text>
<text stroke="#1a1a1a" stroke-width="0.18" x="343.82" y="458.30" text-anchor="middle" font-size="10.5">0.4</text>
<text stroke="#1a1a1a" stroke-width="0.18" x="263.50" y="338.82" text-anchor="end" font-size="10.5">0.6</text>
<text stroke="#1a1a1a" stroke-width="0.18" x="379.18" y="458.30" text-anchor="middle" font-size="10.5">0.6</text>
<text stroke="#1a1a1a" stroke-width="0.18" x="263.50" y="303.16" text-anchor="end" font-size="10.5">0.8</text>
<text stroke="#1a1a1a" stroke-width="0.18" x="414.54" y="458.30" text-anchor="middle" font-size="10.5">0.8</text>
<text stroke="#1a1a1a" stroke-width="0.18" x="263.50" y="267.50" text-anchor="end" font-size="10.5">1</text>
<text stroke="#1a1a1a" stroke-width="0.18" x="449.90" y="458.30" text-anchor="middle" font-size="10.5">1</text>
<text stroke="#1a1a1a" stroke-width="0.18" x="299.70" y="473.70" font-size="10.8" textLength="125.90" lengthAdjust="spacingAndGlyphs">Proportion of t-POC in diet</text>
<text stroke="#1a1a1a" stroke-width="0.18" transform="translate(243.00,430.00) rotate(-90)" x="0" y="0" font-size="10.7" textLength="155.00" lengthAdjust="spacingAndGlyphs" xml:space="preserve">Assimilated  terrestrial-origin OC</text>
<text stroke="#1a1a1a" stroke-width="0.18" x="282.8" y="275.3" font-size="12">D</text>
<polyline points="273.10,442.00 274.57,441.97 276.05,441.89 277.52,441.77 278.99,441.61 280.47,441.42 281.94,441.20 283.41,440.94 284.89,440.66 286.36,440.34 287.83,440.00 289.31,439.62 290.78,439.22 292.25,438.80 293.73,438.34 295.20,437.86 296.67,437.35 298.15,436.82 299.62,436.26 301.09,435.68 302.57,435.07 304.04,434.44 305.51,433.78 306.99,433.10 308.46,432.40 309.93,431.67 311.41,430.92 312.88,430.15 314.35,429.35 315.83,428.53 317.30,427.69 318.77,426.82 320.25,425.93 321.72,425.02 323.19,424.09 324.67,423.14 326.14,422.16 327.61,421.17 329.09,420.15 330.56,419.11 332.03,418.05 333.51,416.96 334.98,415.86 336.45,414.74 337.93,413.59 339.40,412.42 340.87,411.24 342.35,410.03 343.82,408.80 345.29,407.55 346.77,406.29 348.24,405.00 349.71,403.69 351.19,402.36 352.66,401.01 354.13,399.64 355.61,398.25 357.08,396.85 358.55,395.42 360.03,393.97 361.50,392.50 362.97,391.02 364.45,389.51 365.92,387.99 367.39,386.44 368.87,384.88 370.34,383.30 371.81,381.69 373.29,380.07 374.76,378.43 376.23,376.78 377.71,375.10 379.18,373.40 380.65,371.69 382.13,369.95 383.60,368.20 385.07,366.43 386.55,364.64 388.02,362.83 389.49,361.01 390.97,359.16 392.44,357.30 393.91,355.42 395.39,353.52 396.86,351.60 398.33,349.67 399.81,347.72 401.28,345.74 402.75,343.75 404.23,341.75 405.70,339.72 407.17,337.68 408.65,335.62 410.12,333.54 411.59,331.44 413.07,329.33 414.54,327.20 416.01,325.05 417.49,322.88 418.96,320.70 420.43,318.49 421.91,316.27 423.38,314.04 424.85,311.78 426.33,309.51 427.80,307.22 429.27,304.92 430.75,302.59 432.22,300.25 433.69,297.89 435.17,295.52 436.64,293.13 438.11,290.72 439.59,288.29 441.06,285.85 442.53,283.39 444.01,280.91 445.48,278.42 446.95,275.90 448.43,273.38 449.90,270.83" fill="none" stroke="#b04c55" stroke-width="1.35" stroke-linejoin="round"/>
<polyline points="273.10,442.00 274.57,441.99 276.05,441.96 277.52,441.91 278.99,441.84 280.47,441.74 281.94,441.63 283.41,441.49 284.89,441.33 286.36,441.15 287.83,440.95 289.31,440.72 290.78,440.47 292.25,440.20 293.73,439.91 295.20,439.59 296.67,439.25 298.15,438.89 299.62,438.50 301.09,438.10 302.57,437.67 304.04,437.21 305.51,436.74 306.99,436.24 308.46,435.71 309.93,435.17 311.41,434.60 312.88,434.01 314.35,433.39 315.83,432.75 317.30,432.09 318.77,431.40 320.25,430.70 321.72,429.96 323.19,429.21 324.67,428.43 326.14,427.63 327.61,426.80 329.09,425.95 330.56,425.08 332.03,424.18 333.51,423.26 334.98,422.31 336.45,421.35 337.93,420.35 339.40,419.34 340.87,418.30 342.35,417.24 343.82,416.15 345.29,415.04 346.77,413.90 348.24,412.75 349.71,411.56 351.19,410.36 352.66,409.13 354.13,407.87 355.61,406.60 357.08,405.29 358.55,403.97 360.03,402.62 361.50,401.25 362.97,399.85 364.45,398.43 365.92,396.98 367.39,395.51 368.87,394.02 370.34,392.50 371.81,390.96 373.29,389.39 374.76,387.80 376.23,386.19 377.71,384.55 379.18,382.88 380.65,381.20 382.13,379.49 383.60,377.75 385.07,375.99 386.55,374.21 388.02,372.40 389.49,370.57 390.97,368.71 392.44,366.83 393.91,364.92 395.39,362.99 396.86,361.04 398.33,359.06 399.81,357.06 401.28,355.03 402.75,352.98 404.23,350.90 405.70,348.80 407.17,346.68 408.65,344.53 410.12,342.36 411.59,340.16 413.07,337.93 414.54,335.69 416.01,333.42 417.49,331.12 418.96,328.80 420.43,326.46 421.91,324.09 423.38,321.69 424.85,319.27 426.33,316.83 427.80,314.36 429.27,311.87 430.75,309.35 432.22,306.81 433.69,304.25 435.17,301.66 436.64,299.04 438.11,296.40 439.59,293.74 441.06,291.05 442.53,288.34 444.01,285.60 445.48,282.83 446.95,280.05 448.43,277.23 449.90,274.40" fill="none" stroke="#707575" stroke-width="1.3" stroke-linejoin="round"/>
<path d="M281.94,437.30L286.64,442.00L281.94,446.70L277.24,442.00Z" fill="#c0504d"/>
<path d="M317.30,420.36L322.00,425.06L317.30,429.76L312.60,425.06Z" fill="#c0504d"/>
<path d="M361.50,390.94L366.20,395.64L361.50,400.34L356.80,395.64Z" fill="#c0504d"/>
<path d="M405.70,331.92L410.40,336.62L405.70,341.32L401.00,336.62Z" fill="#c0504d"/>
<path d="M441.06,282.18L445.76,286.88L441.06,291.58L436.36,286.88Z" fill="#c0504d"/>
<path d="M281.94,437.30L286.64,442.00L281.94,446.70L277.24,442.00Z" fill="#808080"/>
<path d="M317.30,426.42L322.00,431.12L317.30,435.82L312.60,431.12Z" fill="#808080"/>
<path d="M361.50,392.19L366.20,396.89L361.50,401.59L356.80,396.89Z" fill="#808080"/>
<path d="M405.70,348.15L410.40,352.85L405.70,357.55L401.00,352.85Z" fill="#808080"/>
<path d="M441.06,283.43L445.76,288.13L441.06,292.83L436.36,288.13Z" fill="#808080"/>
<text stroke="#bb5860" stroke-width="0.18" x="305.10" y="368.80" font-size="10.6" fill="#bb5860" textLength="43.40" lengthAdjust="spacingAndGlyphs">y = 0.96x</text>
<text stroke="#bb5860" stroke-width="0.18" x="348.90" y="365.20" font-size="7.2" fill="#bb5860" textLength="14.20" lengthAdjust="spacingAndGlyphs">1.79</text>
<text stroke="#bb5860" stroke-width="0.18" x="311.80" y="381.60" font-size="10.6" fill="#bb5860" textLength="44.00" lengthAdjust="spacingAndGlyphs">R<tspan font-size="8.2" dy="-1.5">²</tspan><tspan dy="1.5"> = 0.99</tspan></text>
<text stroke="#bb5860" stroke-width="0.18" x="369.70" y="414.00" font-size="10.6" fill="#bb5860" textLength="44.00" lengthAdjust="spacingAndGlyphs">y = 0.94x</text>
<text stroke="#bb5860" stroke-width="0.18" x="414.10" y="410.40" font-size="7.2" fill="#bb5860" textLength="13.40" lengthAdjust="spacingAndGlyphs">2.04</text>
<text stroke="#bb5860" stroke-width="0.18" x="376.20" y="426.60" font-size="10.6" fill="#bb5860" textLength="44.50" lengthAdjust="spacingAndGlyphs">R<tspan font-size="8.2" dy="-1.5">²</tspan><tspan dy="1.5"> = 1.00</tspan></text>
<path d="M505,263.3V440.5H680" fill="none" stroke="#000" stroke-width="1.5"/>
<path d="M501.60,440.50H505M505.00,440.5V443.90M501.60,405.06H505M540.00,440.5V443.90M501.60,369.62H505M575.00,440.5V443.90M501.60,334.18H505M610.00,440.5V443.90M501.60,298.74H505M645.00,440.5V443.90M501.60,263.30H505M680.00,440.5V443.90" fill="none" stroke="#000" stroke-width="1.3"/>
<text stroke="#1a1a1a" stroke-width="0.18" x="495.40" y="444.30" text-anchor="end" font-size="10.5">0</text>
<text stroke="#1a1a1a" stroke-width="0.18" x="505.00" y="456.80" text-anchor="middle" font-size="10.5">0</text>
<text stroke="#1a1a1a" stroke-width="0.18" x="495.40" y="408.86" text-anchor="end" font-size="10.5">0.2</text>
<text stroke="#1a1a1a" stroke-width="0.18" x="540.00" y="456.80" text-anchor="middle" font-size="10.5">0.2</text>
<text stroke="#1a1a1a" stroke-width="0.18" x="495.40" y="373.42" text-anchor="end" font-size="10.5">0.4</text>
<text stroke="#1a1a1a" stroke-width="0.18" x="575.00" y="456.80" text-anchor="middle" font-size="10.5">0.4</text>
<text stroke="#1a1a1a" stroke-width="0.18" x="495.40" y="337.98" text-anchor="end" font-size="10.5">0.6</text>
<text stroke="#1a1a1a" stroke-width="0.18" x="610.00" y="456.80" text-anchor="middle" font-size="10.5">0.6</text>
<text stroke="#1a1a1a" stroke-width="0.18" x="495.40" y="302.54" text-anchor="end" font-size="10.5">0.8</text>
<text stroke="#1a1a1a" stroke-width="0.18" x="645.00" y="456.80" text-anchor="middle" font-size="10.5">0.8</text>
<text stroke="#1a1a1a" stroke-width="0.18" x="495.40" y="267.10" text-anchor="end" font-size="10.5">1</text>
<text stroke="#1a1a1a" stroke-width="0.18" x="680.00" y="456.80" text-anchor="middle" font-size="10.5">1</text>
<text stroke="#1a1a1a" stroke-width="0.18" x="527.00" y="472.90" font-size="10.8" textLength="126.20" lengthAdjust="spacingAndGlyphs">Proportion of t-POC in diet</text>
<text stroke="#1a1a1a" stroke-width="0.18" transform="translate(473.30,425.00) rotate(-90)" x="0" y="0" font-size="10.7" textLength="153.30" lengthAdjust="spacingAndGlyphs" xml:space="preserve">Assimilated terrestrial-origin FAs</text>
<text stroke="#1a1a1a" stroke-width="0.18" x="512.5" y="274.3" font-size="12">F</text>
<polyline points="505.00,440.50 506.46,440.49 507.92,440.47 509.38,440.44 510.83,440.38 512.29,440.31 513.75,440.23 515.21,440.12 516.67,440.00 518.12,439.86 519.58,439.70 521.04,439.53 522.50,439.33 523.96,439.12 525.42,438.89 526.88,438.64 528.33,438.37 529.79,438.08 531.25,437.78 532.71,437.45 534.17,437.11 535.62,436.74 537.08,436.36 538.54,435.96 540.00,435.53 541.46,435.09 542.92,434.63 544.38,434.15 545.83,433.64 547.29,433.12 548.75,432.58 550.21,432.02 551.67,431.44 553.12,430.84 554.58,430.21 556.04,429.57 557.50,428.91 558.96,428.23 560.42,427.52 561.88,426.80 563.33,426.05 564.79,425.29 566.25,424.50 567.71,423.70 569.17,422.87 570.62,422.02 572.08,421.15 573.54,420.26 575.00,419.35 576.46,418.42 577.92,417.47 579.38,416.50 580.83,415.50 582.29,414.49 583.75,413.45 585.21,412.39 586.67,411.31 588.12,410.21 589.58,409.09 591.04,407.95 592.50,406.79 593.96,405.60 595.42,404.40 596.88,403.17 598.33,401.92 599.79,400.65 601.25,399.36 602.71,398.04 604.17,396.71 605.62,395.35 607.08,393.97 608.54,392.57 610.00,391.15 611.46,389.71 612.92,388.24 614.38,386.76 615.83,385.25 617.29,383.72 618.75,382.16 620.21,380.59 621.67,378.99 623.12,377.38 624.58,375.74 626.04,374.07 627.50,372.39 628.96,370.69 630.42,368.96 631.88,367.21 633.33,365.44 634.79,363.64 636.25,361.83 637.71,359.99 639.17,358.13 640.62,356.25 642.08,354.34 643.54,352.41 645.00,350.47 646.46,348.49 647.92,346.50 649.38,344.49 650.83,342.45 652.29,340.39 653.75,338.30 655.21,336.20 656.67,334.07 658.12,331.92 659.58,329.75 661.04,327.55 662.50,325.34 663.96,323.10 665.42,320.83 666.88,318.55 668.33,316.24 669.79,313.91 671.25,311.56 672.71,309.18 674.17,306.79 675.62,304.37 677.08,301.92 678.54,299.46 680.00,296.97" fill="none" stroke="#b04c55" stroke-width="1.5" stroke-dasharray="5.2 3.8" stroke-dashoffset="-0.8" stroke-linejoin="round"/>
<polyline points="505.00,440.50 506.46,440.50 507.92,440.50 509.38,440.50 510.83,440.50 512.29,440.50 513.75,440.50 515.21,440.50 516.67,440.50 518.12,440.50 519.58,440.50 521.04,440.49 522.50,440.49 523.96,440.49 525.42,440.48 526.88,440.48 528.33,440.47 529.79,440.46 531.25,440.45 532.71,440.44 534.17,440.42 535.62,440.41 537.08,440.39 538.54,440.36 540.00,440.34 541.46,440.31 542.92,440.27 544.38,440.23 545.83,440.19 547.29,440.14 548.75,440.08 550.21,440.02 551.67,439.96 553.12,439.88 554.58,439.80 556.04,439.71 557.50,439.61 558.96,439.50 560.42,439.39 561.88,439.26 563.33,439.12 564.79,438.97 566.25,438.81 567.71,438.64 569.17,438.45 570.62,438.25 572.08,438.03 573.54,437.80 575.00,437.55 576.46,437.28 577.92,437.00 579.38,436.70 580.83,436.38 582.29,436.04 583.75,435.68 585.21,435.30 586.67,434.89 588.12,434.46 589.58,434.00 591.04,433.52 592.50,433.02 593.96,432.48 595.42,431.92 596.88,431.33 598.33,430.71 599.79,430.05 601.25,429.37 602.71,428.65 604.17,427.89 605.62,427.10 607.08,426.27 608.54,425.40 610.00,424.50 611.46,423.55 612.92,422.56 614.38,421.53 615.83,420.45 617.29,419.33 618.75,418.16 620.21,416.94 621.67,415.67 623.12,414.35 624.58,412.98 626.04,411.55 627.50,410.07 628.96,408.53 630.42,406.93 631.88,405.27 633.33,403.55 634.79,401.77 636.25,399.92 637.71,398.01 639.17,396.03 640.62,393.98 642.08,391.86 643.54,389.66 645.00,387.39 646.46,385.05 647.92,382.62 649.38,380.12 650.83,377.54 652.29,374.87 653.75,372.12 655.21,369.28 656.67,366.35 658.12,363.33 659.58,360.22 661.04,357.01 662.50,353.71 663.96,350.31 665.42,346.81 666.88,343.21 668.33,339.50 669.79,335.68 671.25,331.76 672.71,327.73 674.17,323.58 675.62,319.32 677.08,314.94 678.54,310.45 680.00,305.83" fill="none" stroke="#e9be4e" stroke-width="1.4" stroke-dasharray="5.2 3.8" stroke-dashoffset="-1.0" stroke-linejoin="round"/>
<path d="M513.75,425.27L517.46,428.98L513.75,432.69L510.04,428.98Z" fill="#fff" stroke="#b0474f" stroke-width="1.4" stroke-linejoin="miter"/>
<path d="M548.75,424.39L552.46,428.10L548.75,431.81L545.04,428.10Z" fill="#fff" stroke="#b0474f" stroke-width="1.4" stroke-linejoin="miter"/>
<path d="M592.50,420.13L596.21,423.84L592.50,427.55L588.79,423.84Z" fill="#fff" stroke="#b0474f" stroke-width="1.4" stroke-linejoin="miter"/>
<path d="M636.25,340.75L639.96,344.46L636.25,348.17L632.54,344.46Z" fill="#fff" stroke="#b0474f" stroke-width="1.4" stroke-linejoin="miter"/>
<path d="M671.25,314.52L674.96,318.23L671.25,321.94L667.54,318.23Z" fill="#fff" stroke="#b0474f" stroke-width="1.4" stroke-linejoin="miter"/>
<path d="M513.75,436.12L517.60,439.97L513.75,443.82L509.90,439.97Z" fill="#f8ab1c" stroke="#a5482f" stroke-width="1.2" stroke-linejoin="miter"/>
<path d="M548.75,433.10L552.60,436.96L548.75,440.81L544.90,436.96Z" fill="#f8ab1c" stroke="#a5482f" stroke-width="1.2" stroke-linejoin="miter"/>
<path d="M592.50,422.12L596.35,425.97L592.50,429.82L588.65,425.97Z" fill="#f8ab1c" stroke="#a5482f" stroke-width="1.2" stroke-linejoin="miter"/>
<path d="M636.25,399.44L640.10,403.29L636.25,407.14L632.40,403.29Z" fill="#f8ab1c" stroke="#a5482f" stroke-width="1.2" stroke-linejoin="miter"/>
<path d="M671.25,326.78L675.10,330.64L671.25,334.49L667.40,330.64Z" fill="#f8ab1c" stroke="#a5482f" stroke-width="1.2" stroke-linejoin="miter"/>
<text stroke="#bb5860" stroke-width="0.18" x="537.00" y="385.10" font-size="10.6" fill="#bb5860" textLength="43.80" lengthAdjust="spacingAndGlyphs">y = 0.81x</text>
<text stroke="#bb5860" stroke-width="0.18" x="581.20" y="381.50" font-size="7.2" fill="#bb5860" textLength="13.00" lengthAdjust="spacingAndGlyphs">2.09</text>
<text stroke="#bb5860" stroke-width="0.18" x="543.80" y="398.50" font-size="10.6" fill="#bb5860" textLength="44.00" lengthAdjust="spacingAndGlyphs">R<tspan font-size="8.2" dy="-1.5">²</tspan><tspan dy="1.5"> = 0.93</tspan></text>
<text stroke="#bb5860" stroke-width="0.18" x="624.70" y="420.40" font-size="10.6" fill="#bb5860" textLength="44.00" lengthAdjust="spacingAndGlyphs">y = 0.76x</text>
<text stroke="#bb5860" stroke-width="0.18" x="669.10" y="416.80" font-size="7.2" fill="#bb5860" textLength="13.60" lengthAdjust="spacingAndGlyphs">4.17</text>
<text stroke="#bb5860" stroke-width="0.18" x="631.40" y="433.30" font-size="10.6" fill="#bb5860" textLength="44.30" lengthAdjust="spacingAndGlyphs">R<tspan font-size="8.2" dy="-1.5">²</tspan><tspan dy="1.5"> = 0.99</tspan></text>
</svg></body></html>
